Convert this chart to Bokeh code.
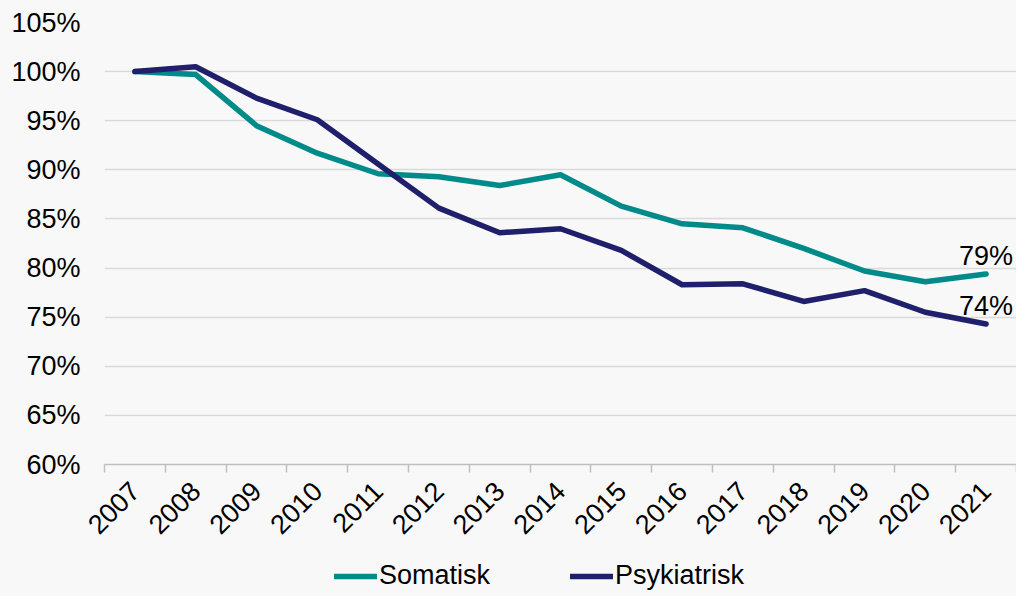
import math
from bokeh.plotting import figure
from bokeh.layouts import column
from bokeh.models import (Range1d, FixedTicker, Legend, LegendItem, ColumnDataSource)
from bokeh.embed import file_html
from bokeh.resources import INLINE
from bokeh.core.properties import value

years = ["2007", "2008", "2009", "2010", "2011", "2012", "2013", "2014",
         "2015", "2016", "2017", "2018", "2019", "2020", "2021"]
somatisk = [100.0, 99.7, 94.5, 91.7, 89.6, 89.3, 88.4, 89.5,
            86.3, 84.5, 84.1, 82.0, 79.7, 78.6, 79.4]
psykiatrisk = [100.0, 100.5, 97.3, 95.1, 90.6, 86.1, 83.6, 84.0,
               81.8, 78.3, 78.4, 76.6, 77.7, 75.5, 74.3]
series_names = ["Somatisk", "Psykiatrisk"]
y_ticks = [60, 65, 70, 75, 80, 85, 90, 95, 100, 105]

TEAL = "#008a8a"
NAVY = "#1f1f6b"
BG = "#f8f8f8"
FONT = "Liberation Sans"

xs = list(range(len(years)))

p = figure(width=1016, height=545, output_backend="svg", toolbar_location=None,
           x_range=Range1d(-0.5, len(years) - 0.5), y_range=Range1d(60, 105),
           min_border_left=104, min_border_right=0, min_border_top=22,
           min_border_bottom=78)
p.background_fill_color = BG
p.border_fill_color = BG
p.outline_line_color = None

r1 = p.line(xs, somatisk, line_color=TEAL, line_width=5.5, line_cap="round", line_join="round")
r2 = p.line(xs, psykiatrisk, line_color=NAVY, line_width=5.5, line_cap="round", line_join="round")

# end labels
lab_src = ColumnDataSource(dict(
    x=[xs[-1], xs[-1]],
    y=[somatisk[-1], psykiatrisk[-1]],
    t=[f"{round(somatisk[-1])}%", f"{round(psykiatrisk[-1])}%"],
))
p.text(x="x", y="y", text="t", source=lab_src, text_align="center",
       text_baseline="alphabetic", y_offset=-18, text_font=value(FONT),
       text_font_size="27px", text_color="#000000")

# y axis
p.yaxis.ticker = FixedTicker(ticks=y_ticks)
p.yaxis.major_label_overrides = {v: f"{v}%" for v in y_ticks}
p.yaxis.axis_line_color = None
p.yaxis.major_tick_line_color = None
p.yaxis.minor_tick_line_color = None
p.yaxis.major_tick_out = 0
p.yaxis.major_tick_in = 0
p.yaxis.major_label_standoff = 24
p.yaxis.major_label_text_font = FONT
p.yaxis.major_label_text_font_size = "27px"
p.yaxis.major_label_text_color = "#000000"

# x axis
p.xaxis.ticker = FixedTicker(ticks=xs, minor_ticks=[i - 0.5 for i in range(len(years) + 1)])
p.xaxis.major_label_overrides = {i: y for i, y in enumerate(years)}
p.xaxis.major_label_orientation = math.pi / 4
p.xaxis.axis_line_color = "#bfbfbf"
p.xaxis.axis_line_width = 1.5
p.xaxis.major_tick_line_color = None
p.xaxis.major_tick_out = 0
p.xaxis.major_tick_in = 0
p.xaxis.minor_tick_line_color = "#bfbfbf"
p.xaxis.minor_tick_line_width = 1.5
p.xaxis.minor_tick_out = 8
p.xaxis.minor_tick_in = 0
p.xaxis.major_label_standoff = 14
p.xaxis.major_label_text_font = FONT
p.xaxis.major_label_text_font_size = "27px"
p.xaxis.major_label_text_color = "#000000"

p.xgrid.grid_line_color = None
p.ygrid.grid_line_color = "#d9d9d9"
p.ygrid.grid_line_width = 1.5

# legend strip (series drawn off-screen only to provide legend swatches)
p2 = figure(width=1016, height=51, output_backend="svg", toolbar_location=None,
            x_axis_type=None, y_axis_type=None,
            x_range=Range1d(1000, 1001), y_range=Range1d(1000, 1001),
            min_border_left=104, min_border_right=0, min_border_top=0, min_border_bottom=0)
p2.background_fill_color = BG
p2.border_fill_color = BG
p2.outline_line_color = None
p2.grid.visible = False
lg1 = p2.line(xs, somatisk, line_color=TEAL, line_width=5.5, line_cap="round")
lg2 = p2.line(xs, psykiatrisk, line_color=NAVY, line_width=5.5, line_cap="round")

legend = Legend(items=[LegendItem(label=series_names[0], renderers=[lg1]),
                       LegendItem(label=series_names[1], renderers=[lg2])],
                orientation="horizontal", location=(230, 5))
legend.background_fill_alpha = 0
legend.border_line_color = None
legend.glyph_width = 43
legend.glyph_height = 24
legend.label_standoff = 2
legend.spacing = 80
legend.padding = 0
legend.margin = 0
legend.label_text_font = FONT
legend.label_text_font_size = "27px"
legend.label_text_color = "#000000"
p2.add_layout(legend)

layout = column(p, p2, spacing=0, styles={"background-color": BG})
open("out.html", "w").write(file_html(layout, INLINE))
